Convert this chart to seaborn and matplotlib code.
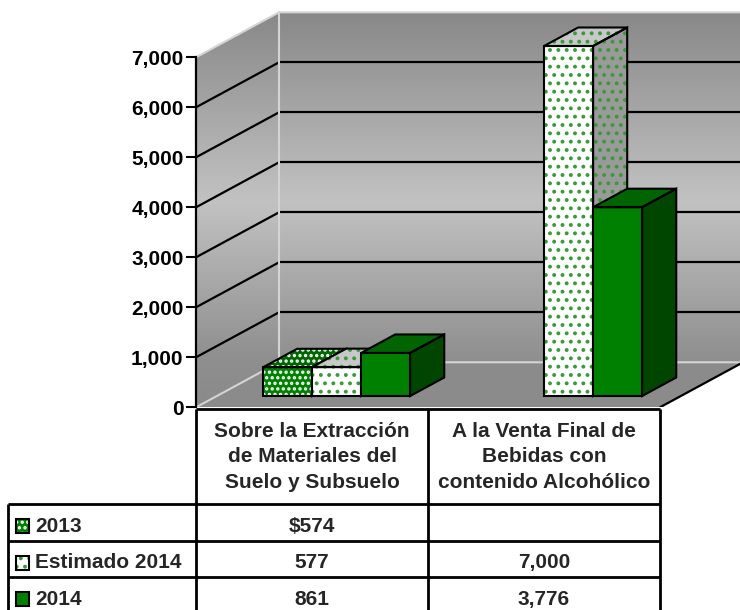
import numpy as np
import pandas as pd
import matplotlib
matplotlib.use("Agg")
import matplotlib.pyplot as plt
from matplotlib.patches import Polygon, Rectangle
from matplotlib.colors import LinearSegmentedColormap
from matplotlib.ticker import StrMethodFormatter
import seaborn as sns

# data
CATEGORIES = ["Sobre la Extracción\nde Materiales del\nSuelo y Subsuelo",
              "A la Venta Final de\nBebidas con\ncontenido Alcohólico"]
SERIES = ["2013", "Estimado 2014", "2014"]
VALUES_2013 = [574, np.nan]
VALUES_EST_2014 = [577, 7000]
VALUES_2014 = [861, 3776]
Y_TICKS = [0, 1000, 2000, 3000, 4000, 5000, 6000, 7000]

# face colours / patterns per series
STYLE = {
    "2013": dict(front="#008000", top="#006600", side="#004d00", hatch="...", hc="white"),
    "Estimado 2014": dict(front="white", top="#c8c8c8", side="#9a9a9a", hatch="..", hc="#3a9a3a"),
    "2014": dict(front="#008000", top="#006400", side="#004600", hatch=None, hc="none"),
}

# fake 3d geometry (data units)
WALL_DX, WALL_DY = 0.358, 900
FRONT_DX, FRONT_DY = 0.106, 226
BAR_DX, BAR_DY = 0.147, 370
YMAX = Y_TICKS[-1]

sns.set_theme(style="white")
plt.rcParams["font.family"] = ["Liberation Sans", "DejaVu Sans"]
plt.rcParams["font.weight"] = "bold"
plt.rcParams["hatch.linewidth"] = 1.6

rows = []
for s, vals in zip(SERIES, [VALUES_2013, VALUES_EST_2014, VALUES_2014]):
    for c, v in zip(CATEGORIES, vals):
        rows.append({"categoria": c, "serie": s, "valor": v})
df = pd.DataFrame(rows).dropna()

fig = plt.figure(figsize=(7.4, 6.1), dpi=100)
ax = fig.add_axes([196 / 740, 202.7 / 610, 544 / 740, 407.3 / 610])

sns.barplot(data=df, x="categoria", y="valor", hue="serie", order=CATEGORIES,
            hue_order=SERIES, palette={s: STYLE[s]["front"] for s in SERIES},
            width=0.634, errorbar=None, legend=False, ax=ax)


def face(verts, fc, hatch, hc, z):
    ax.add_patch(Polygon(verts, closed=True, facecolor=fc, edgecolor=hc,
                         hatch=hatch, lw=0, zorder=z))
    ax.add_patch(Polygon(verts, closed=True, fill=False, edgecolor="black",
                         lw=1.5, joinstyle="miter", zorder=z + 0.001))


# walls and floor
x_back = -0.5 + WALL_DX
x_right = 1.5 + WALL_DX
cmap = LinearSegmentedColormap.from_list(
    "wall", [(0, "#8a8a8a"), (0.12, "#8f8f8f"), (0.52, "#c2c2c2"), (1, "#888888")])
grad = np.linspace(0, 1, 256).reshape(-1, 1)
back_wall = Polygon([(x_back, WALL_DY), (x_right, WALL_DY), (x_right, YMAX + WALL_DY),
                     (x_back, YMAX + WALL_DY)], facecolor="none", edgecolor="none")
left_wall = Polygon([(-0.5, 0), (x_back, WALL_DY), (x_back, YMAX + WALL_DY), (-0.5, YMAX)],
                    facecolor="none", edgecolor="none")
for wall in (back_wall, left_wall):
    ax.add_patch(wall)
    im = ax.imshow(grad, extent=[-0.5, x_right, 0, YMAX + WALL_DY], origin="lower",
                   aspect="auto", cmap=cmap, zorder=0.5)
    im.set_clip_path(wall)

ax.add_patch(Polygon([(-0.5, 0), (1.5, 0), (x_right, WALL_DY), (x_back, WALL_DY)],
                     facecolor="#8b8b8b", edgecolor="none", zorder=0.8))

# gridlines
for v in Y_TICKS[1:-1]:
    ax.plot([-0.5, x_back], [v, v + WALL_DY], color="black", lw=1.6, zorder=1.5)
    ax.plot([x_back, x_right], [v + WALL_DY, v + WALL_DY], color="black", lw=1.6, zorder=1.5)

# light wall edges
edge = dict(color="#d4d4d4", lw=1.5, zorder=1.6)
ax.plot([-0.5, x_back, x_right], [YMAX, YMAX + WALL_DY, YMAX + WALL_DY], **edge)
ax.plot([x_back, x_back], [WALL_DY, YMAX + WALL_DY], **edge)
ax.plot([-0.5, x_back, x_right], [0, WALL_DY, WALL_DY], **edge)
ax.plot([1.5, x_right], [0, WALL_DY], color="black", lw=1.6, zorder=1.7)

# bars -> boxes
fronts = []
for name, cont in zip(SERIES, ax.containers):
    for bar in cont:
        fronts.append((name, bar))
fronts.sort(key=lambda t: t[1].get_x())

for rank, (name, bar) in enumerate(fronts):
    st = STYLE[name]
    z = 3 + rank * 0.1
    x0 = bar.get_x() + FRONT_DX
    w, h = bar.get_width(), bar.get_height()
    y0 = FRONT_DY
    t = y0 + h
    bar.set_x(x0)
    bar.set_y(y0)
    bar.set_facecolor(st["front"])
    bar.set_edgecolor(st["hc"])
    bar.set_hatch(st["hatch"])
    bar.set_linewidth(0)
    bar.set_zorder(z)
    ax.add_patch(Rectangle((x0, y0), w, h, fill=False, edgecolor="black", lw=1.5,
                           joinstyle="miter", zorder=z + 0.002))
    face([(x0, t), (x0 + w, t), (x0 + w + BAR_DX, t + BAR_DY), (x0 + BAR_DX, t + BAR_DY)],
         st["top"], st["hatch"], st["hc"], z)
    face([(x0 + w, y0), (x0 + w + BAR_DX, y0 + BAR_DY), (x0 + w + BAR_DX, t + BAR_DY), (x0 + w, t)],
         st["side"], st["hatch"], st["hc"], z)

ax.set_xlim(-0.5, -0.5 + 544 / 232)
ax.set_ylim(0, 407.3 / 0.05)
ax.set_xticks([])
ax.set_yticks(Y_TICKS)
ax.yaxis.set_major_formatter(StrMethodFormatter("{x:,.0f}"))
ax.tick_params(axis="y", left=True, length=7, width=1.5, pad=2, labelsize=15,
               color="black", labelcolor="black")
ax.set_xlabel("")
ax.set_ylabel("")
for side in ["top", "right", "bottom"]:
    ax.spines[side].set_visible(False)
ax.spines["left"].set_bounds(0, YMAX)
ax.spines["left"].set_linewidth(1.6)
ax.spines["left"].set_color("black")
ax.spines["left"].set_zorder(5)
ax.patch.set_visible(False)

# data table
tax = fig.add_axes([0, 0, 1, 202.7 / 610])
tax.set_xlim(-0.5 - 196 / 232, -0.5 + 544 / 232)
tax.set_ylim(202.7 / 36.7, 0)
tax.axis("off")
HEADER_H = 96.7 / 36.7
LEFT_COL = -0.5 - 188 / 232
line = dict(color="black", lw=2.0, clip_on=False)
tax.hlines(0.05, -0.5, 1.5, **line)
for r in range(3):
    tax.hlines(HEADER_H + r, LEFT_COL, 1.5, **line)
tax.vlines([-0.5, 0.5, 1.5], 0.05, 6, **line)
tax.vlines(LEFT_COL, HEADER_H, 6, **line)

for i, cat in enumerate(CATEGORIES):
    tax.text(i, HEADER_H / 2 + 0.03, cat, ha="center", va="center", fontsize=15,
             linespacing=1.42, multialignment="center")

for r, (name, vals) in enumerate(zip(SERIES, [VALUES_2013, VALUES_EST_2014, VALUES_2014])):
    yc = HEADER_H + r + 0.5
    ty = yc + 0.1
    st = STYLE[name]
    key = (-0.5 - 180 / 232, ty - 0.19)
    tax.add_patch(Rectangle(key, 13 / 232, 0.38, facecolor=st["front"], edgecolor=st["hc"],
                            hatch=st["hatch"], lw=0, clip_on=False))
    tax.add_patch(Rectangle(key, 13 / 232, 0.38, fill=False, edgecolor="black", lw=1.5,
                            clip_on=False))
    tax.text(-0.5 - 161 / 232, ty, name, ha="left", va="center", fontsize=15)
    for i, v in enumerate(vals):
        if np.isnan(v):
            continue
        txt = f"${v:,.0f}" if name == "2013" else f"{v:,.0f}"
        tax.text(i, ty, txt, ha="center", va="center", fontsize=15)

fig.savefig("out.png", dpi=100)
